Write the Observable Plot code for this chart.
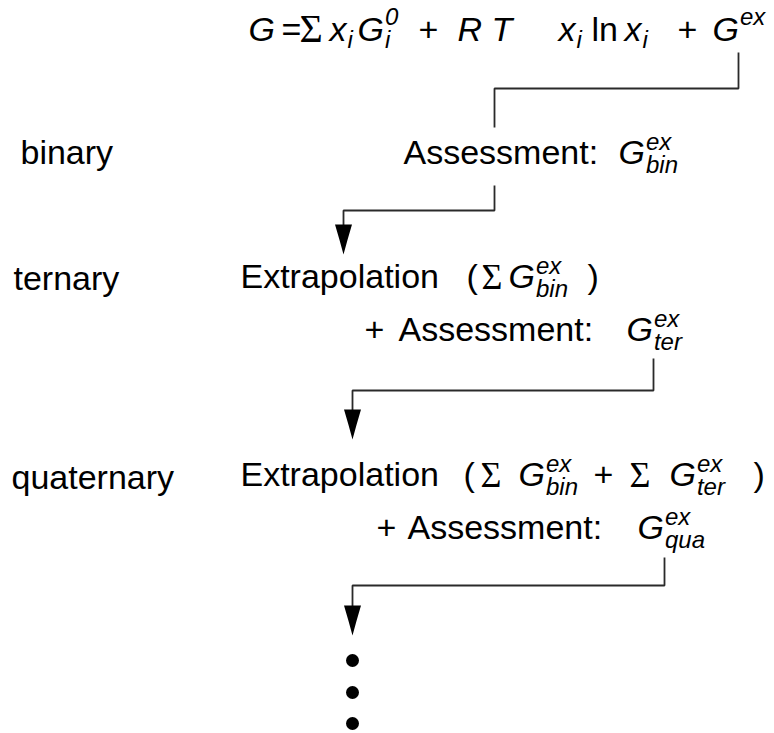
<!DOCTYPE html>
<html><head><meta charset="utf-8">
<script src="https://cdn.jsdelivr.net/npm/d3@7"></script>
<script src="https://cdn.jsdelivr.net/npm/@observablehq/plot@0.6"></script>
<style>
html,body{margin:0;padding:0;background:#fff;}
#chart svg text{white-space:pre;}
</style></head><body><div id="chart"></div>
<script>
// ---------- content ----------
const levelLabels = ["binary", "ternary", "quaternary"];
const stepKinds = ["formula", "assess-bin", "extrap-ter", "assess-ter", "extrap-qua", "assess-qua"];
// rich text segments: t = text, it = italic, sig = summation sign, sup/sub = stacked scripts, at = x position
const formulaSegs = [
  {t: "G", it: 1, at: 248}, {t: "=", at: 281}, {t: "Σ", sig: 1, at: 299},
  {t: "x", it: 1, at: 329, sub: "i"}, {t: "G", it: 1, at: 357, sub: "i", sup: "0"},
  {t: "+", at: 418}, {t: "R", it: 1, at: 457}, {t: "T", it: 1, at: 491},
  {t: "x", it: 1, at: 558, sub: "i"}, {t: "ln", at: 591}, {t: "x", it: 1, at: 624, sub: "i"},
  {t: "+", at: 677}, {t: "G", it: 1, at: 712, sup: "ex"}
];
const assessBinSegs = [{t: "Assessment:", at: 403}, {t: "G", it: 1, at: 618, sup: "ex", sub: "bin"}];
const extrapTerSegs = [{t: "Extrapolation", at: 240}, {t: "(", at: 466}, {t: "Σ", sig: 1, at: 481},
  {t: "G", it: 1, at: 508, sup: "ex", sub: "bin"}, {t: ")", at: 587}];
const assessTerSegs = [{t: "+", at: 364}, {t: "Assessment:", at: 398}, {t: "G", it: 1, at: 626, sup: "ex", sub: "ter"}];
const extrapQuaSegs = [{t: "Extrapolation", at: 240}, {t: "(", at: 463}, {t: "Σ", sig: 1, at: 480},
  {t: "G", it: 1, at: 518, sup: "ex", sub: "bin"}, {t: "+", at: 593}, {t: "Σ", sig: 1, at: 629},
  {t: "G", it: 1, at: 669, sup: "ex", sub: "ter"}, {t: ")", at: 753}];
const assessQuaSegs = [{t: "+", at: 376}, {t: "Assessment:", at: 407}, {t: "G", it: 1, at: 637, sup: "ex", sub: "qua"}];
const stepSegs = [formulaSegs, assessBinSegs, extrapTerSegs, assessTerSegs, extrapQuaSegs, assessQuaSegs];

// ---------- layout ----------
const levelX = [20, 13, 11];
const levelY = [163, 289, 488];
const stepX = [248, 403, 240, 364, 240, 376];
const stepY = [40, 163, 287, 340, 485, 538];
const stepFont = [34, 34, 34, 34, 34, 34];
const connectorPaths = [
  [[738, 52], [738, 88], [494, 88], [494, 127]],
  [[494, 185], [494, 210], [343, 210], [343, 240]],
  [[653, 358], [653, 390], [352, 390], [352, 425]],
  [[664, 557], [664, 585], [352, 585], [352, 620]]
];
const arrowTips = [[343, 254], [352, 439], [352, 635]];
const ellipsisDots = [[352, 660], [352, 692], [352, 723]];

// ---------- build rows ----------
const plain = segs => segs.map(s => s.t + (s.sup || "") + (s.sub || "")).join(" ");
const textRows = [
  ...levelLabels.map((l, i) => ({x: levelX[i], y: levelY[i], fs: 34, segs: [{t: l, at: levelX[i]}], label: l})),
  ...stepSegs.map((segs, i) => ({x: stepX[i], y: stepY[i], fs: stepFont[i], segs, label: plain(segs), kind: stepKinds[i]}))
];
const lineRows = connectorPaths.flatMap((p, id) => p.map(([x, y]) => ({id, x, y})));
const tipRows = arrowTips.map(([x, y]) => ({x, y}));
const dotRows = ellipsisDots.map(([x, y]) => ({x, y}));

const arrowHead = {
  draw(ctx) {
    ctx.moveTo(0, 0);
    ctx.quadraticCurveTo(-4, -15, -8.5, -30);
    ctx.lineTo(8.5, -30);
    ctx.quadraticCurveTo(4, -15, 0, 0);
    ctx.closePath();
  }
};

const sans = "'Liberation Sans', Arial, Helvetica, sans-serif";
const serif = "'Liberation Serif', 'Times New Roman', serif";

const plot = Plot.plot({
  width: 774, height: 733, margin: 0,
  style: {fontFamily: sans, background: "#fff", color: "#000"},
  x: {domain: [0, 774], range: [0, 774], axis: null},
  y: {domain: [0, 733], range: [0, 733], axis: null},
  marks: [
    Plot.line(lineRows, {x: "x", y: "y", z: "id", stroke: "#2a2a2a", strokeWidth: 1.8, strokeLinejoin: "miter", strokeLinecap: "butt"}),
    Plot.dot(tipRows, {x: "x", y: "y", symbol: arrowHead, fill: "#000", stroke: "none"}),
    Plot.dot(dotRows, {x: "x", y: "y", r: 6.5, fill: "#000", stroke: "none"}),
    Plot.text(textRows, {x: "x", y: "y", text: "label", textAnchor: "start", lineAnchor: "bottom", fontSize: 34, fill: "#000"})
  ]
});
document.getElementById("chart").appendChild(plot);

// ---------- rich text (sub/superscripts) ----------
const NS = "http://www.w3.org/2000/svg";
const xs = plot.scale("x");
const texts = plot.querySelectorAll('g[aria-label="text"] text');
texts.forEach((el, i) => {
  const row = textRows[i];
  if (!row) return;
  const fs = row.fs;
  const isFormula = row.kind === "formula";
  const tr = el.getAttribute("transform") || "";
  const m = tr.match(/translate\(\s*([-\d.eE]+)[\s,]*([-\d.eE]+)?/);
  const ox = m ? +m[1] : 0;
  const ya = el.getAttribute("y");
  const yl = ya && !ya.endsWith("em") ? +ya : 0;
  el.removeAttribute("dy");
  if (ya && ya.endsWith("em")) el.removeAttribute("y");
  el.textContent = "";
  el.setAttribute("font-size", fs);
  const supFs = Math.round(fs * 0.72), subFs = Math.round(fs * 0.72);
  const supShift = isFormula ? 16 : 14;
  const subShift = isFormula ? 7 : 9;
  const sigFs = isFormula ? 40 : 36;
  const add = (txt, o) => {
    const t = document.createElementNS(NS, "tspan");
    t.textContent = txt;
    if (o.x != null) t.setAttribute("x", o.x);
    t.setAttribute("y", yl + (o.dy || 0));
    if (o.fs) t.setAttribute("font-size", o.fs);
    if (o.it) t.setAttribute("font-style", "italic");
    if (o.ff) t.setAttribute("font-family", o.ff);
    el.appendChild(t);
    return t;
  };
  const endX = () => el.getEndPositionOfChar(el.getNumberOfChars() - 1).x;
  let forceX = null;
  for (const s of row.segs) {
    const x = s.at != null ? xs.apply(s.at) - ox : forceX;
    forceX = null;
    add(s.t, {x, it: s.it, fs: s.sig ? sigFs : null, ff: s.sig ? serif : null, dy: s.sig ? 1 : 0});
    if (s.sup || s.sub) {
      const bx = endX();
      let e = bx;
      if (s.sup) { add(s.sup, {x: bx + 1, dy: -supShift, fs: supFs, it: true}); e = Math.max(e, endX()); }
      if (s.sub) { add(s.sub, {x: bx + 1, dy: subShift, fs: subFs, it: true}); e = Math.max(e, endX()); }
      forceX = e;
    }
  }
});
</script>
</body></html>
